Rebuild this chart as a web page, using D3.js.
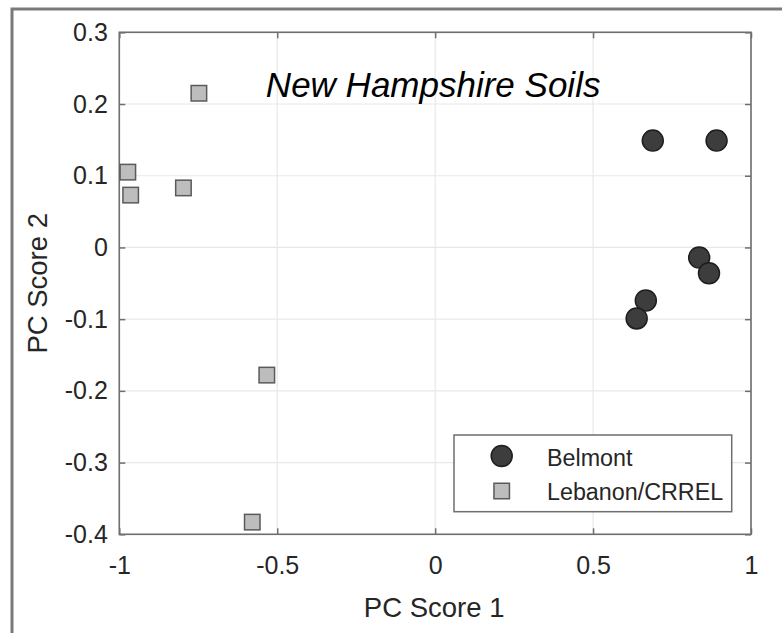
<!DOCTYPE html>
<html>
<head>
<meta charset="utf-8">
<script src="https://cdn.jsdelivr.net/npm/d3@7"></script>
<style>
  html, body { margin: 0; padding: 0; background: #fff; }
  svg { display: block; }
</style>
</head>
<body>
<div id="chart"></div>
<script>
// PC scores for the two soil sites
const belmontX = [0.689, 0.891, 0.836, 0.867, 0.667, 0.638];
const belmontY = [0.149, 0.149, -0.014, -0.036, -0.074, -0.099];
const lebanonX = [-0.748, -0.973, -0.964, -0.797, -0.533, -0.579];
const lebanonY = [0.215, 0.105, 0.073, 0.083, -0.178, -0.383];

const seriesNames = ["Belmont", "Lebanon/CRREL"];
const xTicks = [-1, -0.5, 0, 0.5, 1];
const xTickLabels = ["-1", "-0.5", "0", "0.5", "1"];
const yTicks = [0.3, 0.2, 0.1, 0, -0.1, -0.2, -0.3, -0.4];
const yTickLabels = ["0.3", "0.2", "0.1", "0", "-0.1", "-0.2", "-0.3", "-0.4"];

const W = 782, H = 633;
const plotL = 119.3, plotR = 751, plotT = 32.3, plotB = 534.3;
const font = "'Liberation Sans', Arial, Helvetica, sans-serif";

const svg = d3.select("#chart").append("svg")
  .attr("width", W).attr("height", H)
  .style("font-family", font);

const x = d3.scaleLinear().domain([-1, 1]).range([plotL, plotR]);
const y = d3.scaleLinear().domain([-0.4, 0.3]).range([plotB, plotT]);

// figure border (top and left edges)
svg.append("path")
  .attr("d", `M12,${H} V9 H${W}`)
  .attr("fill", "none").attr("stroke", "#7a7a7a").attr("stroke-width", 3);

// grid
const grid = svg.append("g");
grid.selectAll("line.gx").data(xTicks).join("line")
  .attr("x1", d => x(d)).attr("x2", d => x(d))
  .attr("y1", plotT).attr("y2", plotB)
  .attr("stroke", "#e8e8e8").attr("stroke-width", 1.2);
grid.selectAll("line.gy").data(yTicks).join("line")
  .attr("x1", plotL).attr("x2", plotR)
  .attr("y1", d => y(d)).attr("y2", d => y(d))
  .attr("stroke", "#e8e8e8").attr("stroke-width", 1.2);

// axes with inward ticks
const xAxis = d3.axisBottom(x).tickValues(xTicks)
  .tickFormat((d, i) => xTickLabels[i]).tickSizeInner(-6).tickSizeOuter(0).tickPadding(22);
const yAxis = d3.axisLeft(y).tickValues(yTicks)
  .tickFormat((d, i) => yTickLabels[i]).tickSizeInner(-6).tickSizeOuter(0).tickPadding(11.5);
const xAxisTop = d3.axisTop(x).tickValues(xTicks).tickFormat("").tickSizeInner(-6).tickSizeOuter(0);
const yAxisRight = d3.axisRight(y).tickValues(yTicks).tickFormat("").tickSizeInner(-6).tickSizeOuter(0);

function styleAxis(g) {
  g.select(".domain").remove();
  g.selectAll(".tick line").attr("stroke", "#6e6e6e").attr("stroke-width", 1.5);
  g.selectAll(".tick text").attr("fill", "#262626")
    .style("font-size", "25px").style("font-family", font);
}
svg.append("g").attr("transform", `translate(0,${plotB})`).call(xAxis).call(styleAxis);
svg.append("g").attr("transform", `translate(${plotL},0)`).call(yAxis).call(styleAxis);
svg.append("g").attr("transform", `translate(0,${plotT})`).call(xAxisTop).call(styleAxis);
svg.append("g").attr("transform", `translate(${plotR},0)`).call(yAxisRight).call(styleAxis);

// axes box
svg.append("rect")
  .attr("x", plotL).attr("y", plotT)
  .attr("width", plotR - plotL).attr("height", plotB - plotT)
  .attr("fill", "none").attr("stroke", "#6e6e6e").attr("stroke-width", 1.6);

// title
svg.append("text")
  .attr("x", (plotL + plotR) / 2 - 2).attr("y", 96.5)
  .attr("text-anchor", "middle")
  .style("font-size", "35px").style("font-style", "italic")
  .attr("fill", "#000")
  .text("New Hampshire Soils");

// axis labels
svg.append("text")
  .attr("x", (plotL + plotR) / 2 - 1).attr("y", 617)
  .attr("text-anchor", "middle")
  .style("font-size", "27.5px").attr("fill", "#262626")
  .text("PC Score 1");
svg.append("text")
  .attr("transform", `translate(46.5,${(plotT + plotB) / 2}) rotate(-90)`)
  .attr("text-anchor", "middle")
  .style("font-size", "27.5px").attr("fill", "#262626")
  .text("PC Score 2");

// markers
const circleStyle = s => s.attr("fill", "#3d3d3d").attr("stroke", "#1e1e1e").attr("stroke-width", 1.5);
const squareStyle = s => s.attr("fill", "#bdbdbd").attr("stroke", "#5a5a5a").attr("stroke-width", 1.5);

const lebanon = lebanonX.map((v, i) => ({ x: v, y: lebanonY[i] }));
const belmont = belmontX.map((v, i) => ({ x: v, y: belmontY[i] }));
const sq = 15.5;

svg.append("g").selectAll("rect").data(lebanon).join("rect")
  .attr("x", d => x(d.x) - sq / 2).attr("y", d => y(d.y) - sq / 2)
  .attr("width", sq).attr("height", sq)
  .call(squareStyle);

svg.append("g").selectAll("circle").data(belmont).join("circle")
  .attr("cx", d => x(d.x)).attr("cy", d => y(d.y)).attr("r", 10.5)
  .call(circleStyle);

// legend
const lg = svg.append("g");
lg.append("rect")
  .attr("x", 454).attr("y", 435).attr("width", 277.7).attr("height", 76.7)
  .attr("fill", "#fff").attr("stroke", "#6e6e6e").attr("stroke-width", 1.5);
lg.append("circle").attr("cx", 501.7).attr("cy", 456).attr("r", 10.5).call(circleStyle);
lg.append("rect").attr("x", 501.7 - sq / 2).attr("y", 491 - sq / 2)
  .attr("width", sq).attr("height", sq).call(squareStyle);
lg.selectAll("text").data(seriesNames).join("text")
  .attr("x", 547).attr("y", (d, i) => i === 0 ? 465.5 : 500)
  .style("font-size", "23.3px").attr("fill", "#262626")
  .text(d => d);
</script>
</body>
</html>
